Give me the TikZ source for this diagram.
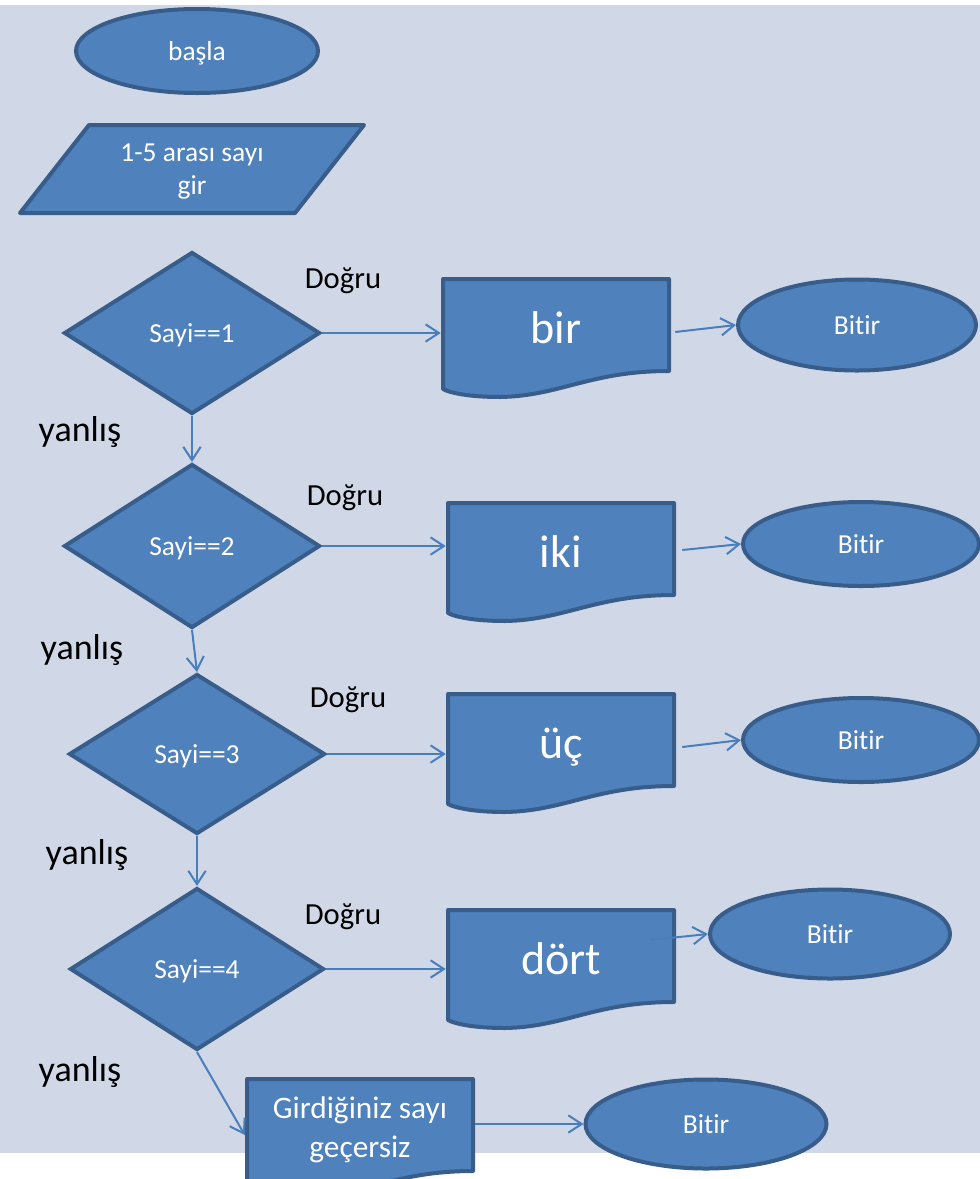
\documentclass[tikz,border=0pt]{standalone}
\usepackage{fontspec}
\setmainfont{Carlito}[Ligatures=NoCommon]
\usetikzlibrary{shapes.geometric,arrows.meta,calc}
\definecolor{bgc}{HTML}{D0D8E8}
\definecolor{fillb}{HTML}{4F81BD}
\definecolor{bord}{HTML}{385D8A}
\definecolor{arrc}{HTML}{4A7EBB}
\newcommand\pxu{0.75pt}
\newcommand\fsml{\fontsize{20.6pt}{24.75pt}\selectfont}
\newcommand\fdoc{\fontsize{34.5pt}{40pt}\selectfont}
\newcommand\flab{\fontsize{23pt}{27pt}\selectfont}
\newcommand\fyan{\fontsize{27pt}{32pt}\selectfont}
\newcommand\fgir{\fontsize{23.5pt}{29pt}\selectfont}
\tikzset{
  blueshape/.style={fill=fillb, draw=bord, line width=3pt, text=white, inner sep=0pt},
  termnode/.style={blueshape, ellipse, font=\fsml, text height=13.5pt, text depth=0pt},
  decnode/.style={blueshape, diamond, font=\fsml, text height=13.5pt, text depth=0pt},
  docnode/.style={rectangle, draw=none, text=white, inner sep=0pt, minimum width=230*\pxu, minimum height=96*\pxu, font=\fdoc, text height=27pt, text depth=0pt},
  docline/.style={fill=fillb, draw=bord, line width=3pt, line join=round},
  lbld/.style={text=black, font=\flab, inner sep=0pt},
  lbly/.style={text=black, font=\fyan, inner sep=0pt},
  conn/.style={draw=arrc, line width=1.5pt, -{Straight Barb[length=10pt,width=13pt]}},
}
\newcommand\docpath[2]{%
  \path[docline, shift={(#1,#2)}] (-113,-46) -- (113,-46) -- (113,46)
    .. controls (34,46) and (4,71) .. (-56,72)
    .. controls (-86,72) and (-106,68) .. (-113,64) -- cycle;}
\begin{document}
\begin{tikzpicture}[x=0.75pt,y=-0.75pt]
\useasboundingbox (0,0) rectangle (980,1179);
\fill[white] (0,0) rectangle (980,1179);
\fill[bgc] (0,5) rectangle (980,1153);

% start and input
\node[termnode, minimum width=242*\pxu, minimum height=84*\pxu] (start) at (197,51) {başla};
\path[docline] (89,125) -- (364,125) -- (295,213) -- (20,213) -- cycle;
\node[text=white, font=\fsml, align=center, inner sep=0pt] (inp) at (192,172) {1-5 arası sayı\\gir};

% decisions
\node[decnode, minimum width=256*\pxu, minimum height=162*\pxu] (dia1) at (192,333) {Sayi==1};
\node[decnode, minimum width=256*\pxu, minimum height=164*\pxu] (dia2) at (192,546) {Sayi==2};
\node[decnode, minimum width=256*\pxu, minimum height=160*\pxu] (dia3) at (197,754) {Sayi==3};
\node[decnode, minimum width=254*\pxu, minimum height=162*\pxu] (dia4) at (197,969) {Sayi==4};

% documents
\docpath{556}{325}
\node[docnode] (doc1) at (556,325) {bir};
\docpath{561}{549}
\node[docnode] (doc2) at (561,549) {iki};
\docpath{561}{740}
\node[docnode] (doc3) at (561,740) {üç};
\docpath{561}{956}
\node[docnode] (doc4) at (561,956) {dört};
\docpath{360}{1125}
\node[docnode, font=\fgir, align=center, text height=, text depth=] (inval) at (360,1130) {Girdiğiniz sayı\\geçersiz};

% terminals
\node[termnode, minimum width=238*\pxu, minimum height=91*\pxu] (end1) at (857,325) {Bitir};
\node[termnode, minimum width=236*\pxu, minimum height=84*\pxu] (end2) at (861,544) {Bitir};
\node[termnode, minimum width=236*\pxu, minimum height=84*\pxu] (end3) at (861,740) {Bitir};
\node[termnode, minimum width=240*\pxu, minimum height=89*\pxu] (end4) at (830,934) {Bitir};
\node[termnode, minimum width=241*\pxu, minimum height=89*\pxu] (end5) at (706,1124) {Bitir};

% labels
\node[lbld] (dg1) at (343,281) {Doğru};
\node[lbld] (dg2) at (345,498) {Doğru};
\node[lbld] (dg3) at (348,700) {Doğru};
\node[lbld] (dg4) at (343,917) {Doğru};
\node[lbly] (yn1) at (80,432) {yanlış};
\node[lbly] (yn2) at (82,650) {yanlış};
\node[lbly] (yn3) at (87,855) {yanlış};
\node[lbly] (yn4) at (80,1072) {yanlış};

% connectors
\draw[conn] (dia1.south) -- (dia2.north);
\draw[conn] (dia2.south) -- (dia3.north);
\draw[conn] (dia3.south) -- (dia4.north);
\draw[conn] (dia4.south) -- ($(inval.west)+(0,5)$);
\draw[conn] (dia1.east) -- (dia1.east -| doc1.west);
\draw[conn] (dia2.east) -- (dia2.east -| doc2.west);
\draw[conn] (dia3.east) -- (dia3.east -| doc3.west);
\draw[conn] (dia4.east) -- (dia4.east -| doc4.west);
\draw[conn] ($(doc1.east)+(4,7)$) -- (end1.west);
\draw[conn] ($(doc2.east)+(6,1)$) -- (end2.west);
\draw[conn] ($(doc3.east)+(6,7)$) -- (end3.west);
\draw[conn] ($(doc4.east)+(-26,-16)$) -- (end4.west);
\draw[conn] ($(inval.east)+(0,-6)$) -- (end5.west);
\end{tikzpicture}
\end{document}
